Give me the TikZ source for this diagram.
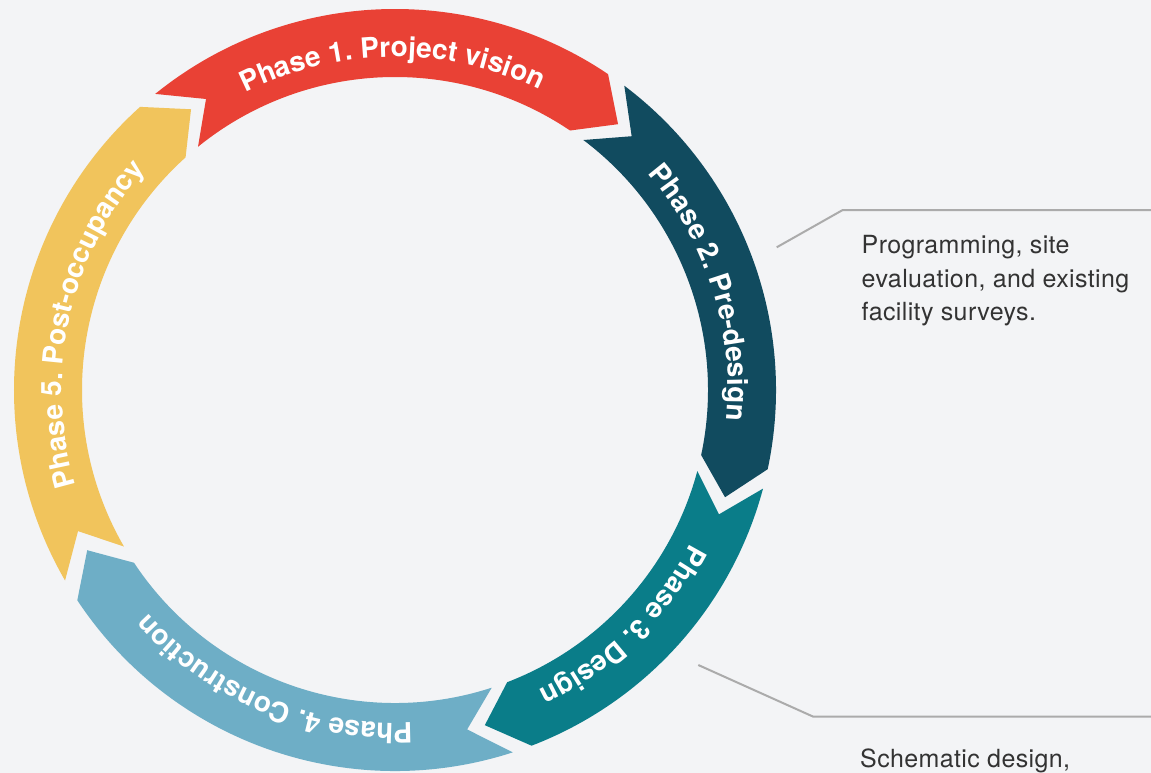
\documentclass[tikz,border=0pt]{standalone}
\usepackage{fontspec}
\setsansfont{TeX Gyre Heros}
\newfontfamily\calfont[LetterSpace=1.5]{TeX Gyre Heros}
\usetikzlibrary{decorations.text}
\definecolor{bg}{HTML}{F3F4F6}
\definecolor{cRed}{HTML}{E94135}
\definecolor{cNavy}{HTML}{114B5F}
\definecolor{cTeal}{HTML}{0A7D89}
\definecolor{cSky}{HTML}{6EAEC6}
\definecolor{cSun}{HTML}{F1C45C}
\definecolor{cLine}{HTML}{ABABAB}
\definecolor{cTxt}{HTML}{333333}
\newcommand\RingOut{381}
\newcommand\RingIn{313}
\newcommand\RingMid{347}
\newcommand\RingTip{6}
\newcommand\ringseg[3]{%
  \fill[#3] (#1:\RingOut) arc[start angle=#1, end angle=#2, radius=\RingOut]
    -- ({#2-\RingTip}:\RingMid) -- (#2:\RingIn)
    arc[start angle=#2, end angle=#1, radius=\RingIn]
    -- ({#1-\RingTip}:\RingMid) -- cycle;}
\newcommand\arcfont{\sffamily\bfseries\fontsize{28}{28}\selectfont\color{white}}
\newcommand\arclabel[2]{%
  \path[decorate, decoration={text along path, text={|\arcfont|#2}, text align=center}]
    ({#1+60}:333) arc[start angle={#1+60}, end angle={#1-60}, radius=333];}
\tikzset{
  callline/.style={draw=cLine, line width=2pt},
  calltext/.style={font=\calfont\fontsize{25}{33.3}\selectfont, text=cTxt, inner sep=0pt, align=left}
}
\begin{document}
\begin{tikzpicture}[x=1pt,y=1pt]
\useasboundingbox (0,0) rectangle (1151,-773);
\fill[bg] (0,0) rectangle (1151,-773);
\begin{scope}[shift={(395,-390)}]
  \ringseg{129}{56}{cRed}
  \ringseg{53}{-12}{cNavy}
  \ringseg{-15}{-69}{cTeal}
  \ringseg{-72}{-146.5}{cSky}
  \ringseg{210}{132}{cSun}
  \arclabel{90.5}{Phase 1. Project vision}
  \arclabel{17.7}{Phase 2. Pre-design}
  \arclabel{-46}{Phase 3. Design}
  \arclabel{-112.5}{Phase 4. Construction}
  \arclabel{167.6}{Phase 5. Post-occupancy}
\end{scope}
\coordinate (a1) at (776.7,-247.3);
\coordinate (b1) at (842.7,-210);
\coordinate (e1) at (1151,-210);
\draw[callline] (a1) -- (b1) -- (e1);
\coordinate (a2) at (698.3,-665);
\coordinate (b2) at (813.3,-716.7);
\coordinate (e2) at (1151,-716.7);
\draw[callline] (a2) -- (b2) -- (e2);
\node[calltext, anchor=north west] (t1) at (861.5,-235.3) {Programming, site\\evaluation, and existing\\facility surveys.};
\node[calltext, anchor=base west] (t2) at (860,-767.5) {Schematic design,};
\end{tikzpicture}
\end{document}
